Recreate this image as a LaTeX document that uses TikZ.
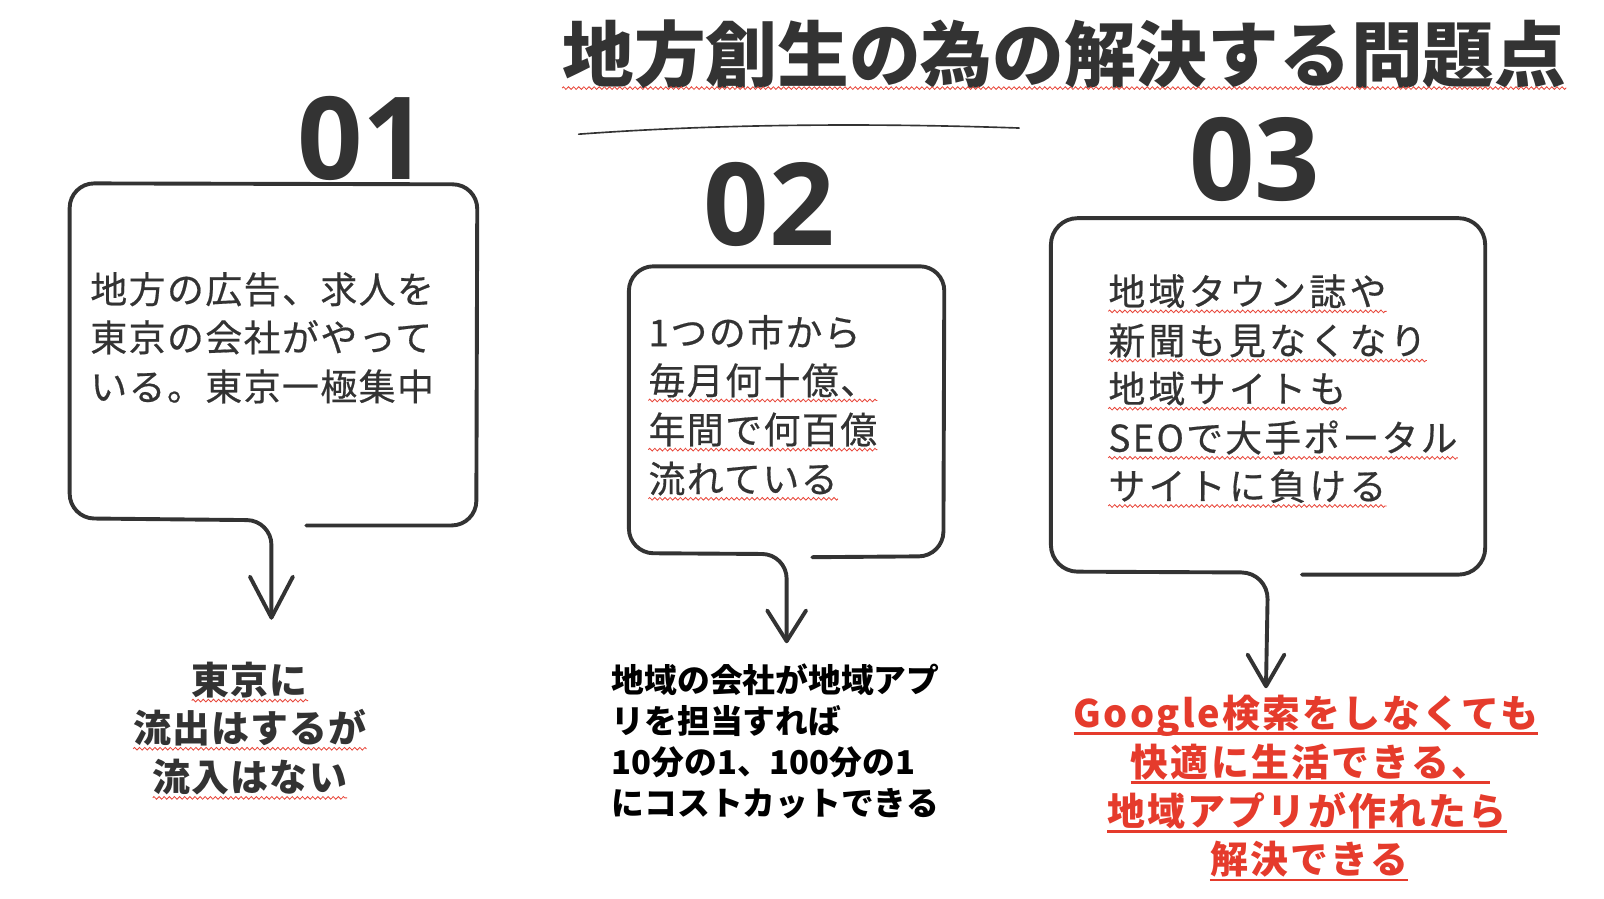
\documentclass[tikz,border=0pt]{standalone}
\usepackage{fontspec}
\usetikzlibrary{calc,decorations.pathmorphing}
\newfontfamily\jp{Noto Sans CJK JP}
\newfontfamily\numfont{Open Sans}
\definecolor{ink}{HTML}{333333}
\definecolor{redtxt}{HTML}{E53B2C}
\definecolor{wavered}{HTML}{E8463A}
\tikzset{
  sk/.style={draw=ink, line width=3.8, line cap=round, line join=round},
  boxtxt/.style={anchor=base west, inner sep=0, text=ink,
    font=\jp\fontsize{36}{36}\selectfont\addfontfeature{LetterSpace=4,FakeBold=0.5}},
  boxtxtw/.style={boxtxt, font=\jp\fontsize{36}{36}\selectfont\addfontfeature{LetterSpace=9,FakeBold=0.5}},
  boxtxtn/.style={boxtxt, font=\jp\fontsize{36}{36}\selectfont\addfontfeature{LetterSpace=6,FakeBold=0.5}},
  bignum/.style={anchor=base, inner sep=0, text=ink, font=\numfont\bfseries\fontsize{112}{112}\selectfont},
  restxtA/.style={anchor=base, inner sep=0, text=ink,
    font=\jp\bfseries\fontsize{37}{37}\selectfont\addfontfeature{LetterSpace=3}},
  restxtB/.style={anchor=base west, inner sep=0, text=black,
    font=\jp\bfseries\fontsize{32}{32}\selectfont},
  restxtC/.style={anchor=base, inner sep=0, text=redtxt,
    font=\jp\bfseries\fontsize{37}{37}\selectfont\addfontfeature{LetterSpace=6}},
  wave/.style={draw=wavered, line width=0.8,
    decorate, decoration={zigzag, segment length=5, amplitude=1.3}},
  redline/.style={draw=redtxt, line width=2.6},
}
\newcommand\squig[1]{\draw[wave] ($(#1.base west)+(0,6)$) -- ($(#1.base east)+(0,6)$);}
\newcommand\redul[1]{\draw[redline] ($(#1.base west)+(0,6)$) -- ($(#1.base east)+(0,6)$);}
\newcommand\vhead[3]{\draw[sk] ($(#1)+(-#2,-#3)$) -- (#1) -- ($(#1)+(#2,-#3)$);}
\begin{document}
\begin{tikzpicture}[x=1pt, y=-1pt]
\fill[white] (0,0) rectangle (1566,877);
\useasboundingbox (0,0) rectangle (1566,877);

% title
\node[anchor=base, inner sep=0, text=ink, font=\jp\bfseries\fontsize{70}{70}\selectfont] (title) at (1039,80) {地方創生の為の解決する問題点};
\squig{title}
\coordinate (hl1) at (565,131);
\coordinate (hl2) at (995,125);
\draw[draw=ink, line width=1.6, line cap=round] (hl1) .. controls (700,121) and (850,120) .. (hl2);

% numbers
\node[bignum] (n1) at (354,175) {01};
\node[bignum] (n2) at (751,240) {02};
\node[bignum] (n3) at (1225,196) {03};

% box 1
\coordinate (t1) at (265,603);
\draw[sk, rounded corners=24] (t1) -- (265,508) -- (68,506) -- (68,179) -- (466,180) -- (465,513) -- (299,513);
\vhead{t1}{21}{40}
\node[boxtxt] (a1) at (88,296) {地方の広告、求人を};
\node[boxtxt] (a2) at (88,343) {東京の会社がやって};
\node[boxtxt] (a3) at (88,391) {いる。東京一極集中};

% box 2
\coordinate (t2) at (768,626);
\draw[sk, rounded corners=24] (t2) -- (768,541) -- (614,540) -- (614,260) -- (922,260) -- (921,543) -- (793,544);
\vhead{t2}{19}{30}
\node[boxtxt] (b1) at (633,338) {1つの市から};
\node[boxtxt] (b2) at (633,385) {毎月何十億、};
\node[boxtxt] (b3) at (633,433) {年間で何百億};
\node[boxtxt] (b4) at (633,481) {流れている};
\squig{b2}\squig{b3}\squig{b4}

% box 3
\coordinate (t3) at (1236,670);
\draw[sk, rounded corners=26] (t3) -- (1238,559) -- (1026,558) -- (1026,213) -- (1450,213) -- (1450,561) -- (1271,561);
\vhead{t3}{18}{31}
\node[boxtxtw] (c1) at (1082,298) {地域タウン誌や};
\node[boxtxtw] (c2) at (1082,346) {新聞も見なくなり};
\node[boxtxtw] (c3) at (1082,393) {地域サイトも};
\node[boxtxtn] (c4) at (1082,441) {SEOで大手ポータル};
\node[boxtxtw] (c5) at (1082,488) {サイトに負ける};
\squig{c1}\squig{c2}\squig{c3}\squig{c4}\squig{c5}

% result 1
\node[restxtA] (d1) at (244,678) {東京に};
\node[restxtA] (d2) at (244,725) {流出はするが};
\node[restxtA] (d3) at (244,773) {流入はない};
\squig{d1}\squig{d2}\squig{d3}

% result 2
\node[restxtB] (e1) at (597,676) {地域の会社が地域アプ};
\node[restxtB] (e2) at (597,716) {リを担当すれば};
\node[restxtB] (e3) at (597,756) {10分の1、100分の1};
\node[restxtB] (e4) at (597,796) {にコストカットできる};

% result 3
\node[restxtC] (f1) at (1275,710) {Google検索をしなくても};
\node[restxtC] (f2) at (1279,758) {快適に生活できる、};
\node[restxtC] (f3) at (1276,806) {地域アプリが作れたら};
\node[restxtC] (f4) at (1278,853) {解決できる};
\redul{f1}\redul{f2}\redul{f3}\redul{f4}
\end{tikzpicture}
\end{document}
